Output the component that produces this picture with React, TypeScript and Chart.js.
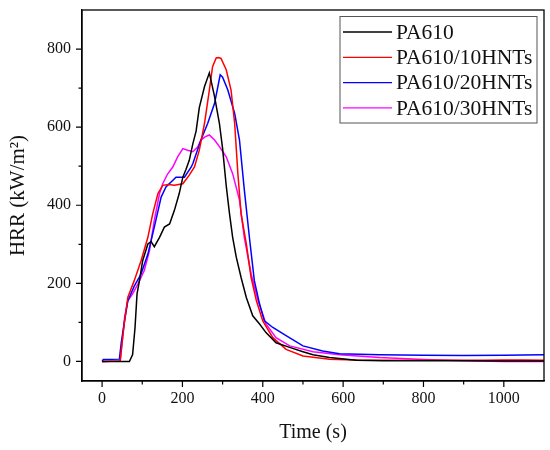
import { useEffect, useRef } from "react";
import { Chart, registerables } from "chart.js";

Chart.register(...registerables);

// PA610
const pa610Time = [0, 43, 68, 76, 82, 87, 93, 101, 114, 122, 130, 143, 155, 168, 180, 192, 201, 209, 217, 226, 234, 242, 255, 267, 280, 292, 300, 309, 317, 325, 334, 346, 359, 375, 392, 408, 433, 467, 500, 525, 566, 633, 700, 800, 900, 1000, 1100];
const pa610Hrr = [0, 0, 0, 18, 87, 173, 207, 258, 301, 307, 294, 318, 344, 352, 387, 430, 472, 492, 515, 558, 590, 650, 704, 739, 678, 610, 545, 450, 380, 318, 267, 215, 164, 117, 96, 74, 48, 36, 25, 17, 10, 3, 2, 2, 2, 1, 1];

// PA610/10HNTs
const hnt10Time = [0, 45, 50, 56, 64, 80, 97, 114, 126, 139, 151, 165, 180, 201, 217, 230, 242, 255, 267, 275, 284, 290, 296, 309, 321, 330, 338, 346, 359, 371, 384, 400, 425, 458, 500, 566, 650, 750, 850, 950, 1000, 1050, 1100];
const hnt10Hrr = [0, 1, 50, 104, 164, 207, 258, 318, 378, 430, 451, 453, 451, 455, 477, 498, 541, 610, 695, 755, 777, 778, 776, 747, 695, 610, 481, 378, 301, 215, 156, 104, 61, 31, 14, 6, 3, 3, 3, 3, 4, 4, 3];

// PA610/20HNTs
const hnt20Time = [0, 3, 43, 48, 56, 64, 80, 97, 114, 130, 147, 159, 184, 205, 222, 226, 246, 263, 280, 294, 300, 313, 330, 342, 354, 367, 379, 392, 404, 425, 458, 500, 549, 591, 691, 800, 900, 1000, 1100];
const hnt20Hrr = [0, 5, 6, 50, 104, 155, 193, 224, 275, 344, 421, 447, 472, 472, 498, 507, 567, 610, 661, 734, 728, 695, 635, 567, 440, 315, 207, 147, 104, 87, 66, 40, 27, 20, 17, 16, 15, 16, 17];

// PA610/30HNTs
const hnt30Time = [0, 45, 50, 56, 64, 76, 89, 105, 118, 130, 143, 151, 163, 176, 188, 201, 213, 226, 238, 246, 256, 267, 280, 292, 309, 325, 342, 354, 371, 388, 408, 433, 467, 525, 591, 691, 800, 900, 1000, 1100];
const hnt30Hrr = [0, 1, 50, 112, 155, 173, 198, 233, 284, 361, 430, 455, 480, 498, 524, 545, 541, 537, 549, 567, 575, 580, 567, 550, 524, 481, 413, 318, 224, 156, 96, 61, 40, 25, 17, 10, 5, 2, 0, 0];

const seriesLabels = ["PA610", "PA610/10HNTs", "PA610/20HNTs", "PA610/30HNTs"];
const seriesColors = ["#000000", "#ff0000", "#0000ff", "#ff00ff"];
const xTickValues = [0, 200, 400, 600, 800, 1000];
const yTickValues = [0, 200, 400, 600, 800];

const FONT = "'Liberation Serif', 'DejaVu Serif', serif";

const toPoints = (xs: number[], ys: number[]) => xs.map((x, i) => ({ x, y: ys[i] }));

// frame round the plot, outward major/minor ticks, and the boxed legend
const framePlugin = {
  id: "frame",
  afterDraw(chart: any) {
    const { ctx, chartArea: a, scales } = chart;
    ctx.save();
    ctx.strokeStyle = "#000";
    ctx.lineWidth = 1.3;
    ctx.strokeRect(a.left, a.top, a.right - a.left, a.bottom - a.top);

    ctx.lineWidth = 1.2;
    ctx.beginPath();
    for (let v = 0; v <= 1000; v += 100) {
      const px = scales.x.getPixelForValue(v);
      const len = v % 200 === 0 ? 6 : 3.5;
      ctx.moveTo(px, a.bottom);
      ctx.lineTo(px, a.bottom + len);
    }
    for (let v = 0; v <= 800; v += 100) {
      const py = scales.y.getPixelForValue(v);
      const len = v % 200 === 0 ? 6 : 3.5;
      ctx.moveTo(a.left, py);
      ctx.lineTo(a.left - len, py);
    }
    ctx.stroke();

    // legend
    const boxL = 340, boxT = 16.5, boxR = 537, boxB = 123;
    ctx.fillStyle = "#fff";
    ctx.fillRect(boxL, boxT, boxR - boxL, boxB - boxT);
    ctx.strokeStyle = "#555";
    ctx.lineWidth = 1;
    ctx.strokeRect(boxL, boxT, boxR - boxL, boxB - boxT);
    ctx.font = `21.5px ${FONT}`;
    ctx.textBaseline = "middle";
    ctx.textAlign = "left";
    chart.data.datasets.forEach((ds: any, i: number) => {
      const y = 32 + i * 25.3;
      ctx.strokeStyle = ds.borderColor;
      ctx.lineWidth = 1.3;
      ctx.beginPath();
      ctx.moveTo(343, y);
      ctx.lineTo(392, y);
      ctx.stroke();
      ctx.fillStyle = "#111";
      ctx.fillText(ds.label, 396, y + 1);
    });
    ctx.restore();
  },
};

export default function App() {
  const canvasRef = useRef<HTMLCanvasElement>(null);
  const chartRef = useRef<Chart | null>(null);

  useEffect(() => {
    document.body.style.margin = "0";
    if (!canvasRef.current) return;
    if (chartRef.current) chartRef.current.destroy();

    const series = [
      toPoints(pa610Time, pa610Hrr),
      toPoints(hnt10Time, hnt10Hrr),
      toPoints(hnt20Time, hnt20Hrr),
      toPoints(hnt30Time, hnt30Hrr),
    ];

    chartRef.current = new Chart(canvasRef.current, {
      type: "line",
      data: {
        datasets: series.map((data, i) => ({
          label: seriesLabels[i],
          data,
          borderColor: seriesColors[i],
          backgroundColor: seriesColors[i],
          borderWidth: 1.5,
          pointRadius: 0,
          tension: 0,
          fill: false,
        })),
      },
      options: {
        animation: false,
        responsive: true,
        maintainAspectRatio: false,
        layout: { padding: { left: 0, right: 6, top: 10, bottom: 0 } },
        plugins: {
          legend: { display: false },
          tooltip: { enabled: false },
        },
        scales: {
          x: {
            type: "linear",
            min: -50,
            max: 1100,
            afterBuildTicks: (scale: any) => {
              scale.ticks = xTickValues.map((value) => ({ value }));
            },
            afterFit: (scale: any) => {
              scale.height = 69;
              scale.paddingLeft = 0;
              scale.paddingRight = 0;
            },
            ticks: {
              color: "#111",
              padding: 8,
              font: { family: FONT, size: 16 },
              callback: (value: any) => String(value),
            },
            grid: { drawOnChartArea: false, drawTicks: false },
            border: { color: "#000", width: 1.3 },
            title: {
              display: true,
              text: "Time (s)",
              color: "#111",
              font: { family: FONT, size: 20 },
              padding: { top: 0, bottom: 5 },
            },
          },
          y: {
            type: "linear",
            min: -50,
            max: 900,
            afterBuildTicks: (scale: any) => {
              scale.ticks = yTickValues.map((value) => ({ value }));
            },
            afterFit: (scale: any) => {
              scale.width = 82;
              scale.paddingTop = 0;
              scale.paddingBottom = 0;
            },
            ticks: {
              color: "#111",
              padding: 11,
              font: { family: FONT, size: 16 },
            },
            grid: { drawOnChartArea: false, drawTicks: false },
            border: { color: "#000", width: 1.3 },
            title: {
              display: true,
              text: "HRR (kW/m²)",
              color: "#111",
              font: { family: FONT, size: 21 },
              padding: { top: 6, bottom: 0 },
            },
          },
        },
      },
      plugins: [framePlugin],
    });

    return () => {
      if (chartRef.current) {
        chartRef.current.destroy();
        chartRef.current = null;
      }
    };
  }, []);

  return (
    <div style={{ width: 550, height: 450, position: "relative" }}>
      <canvas ref={canvasRef} />
    </div>
  );
}
